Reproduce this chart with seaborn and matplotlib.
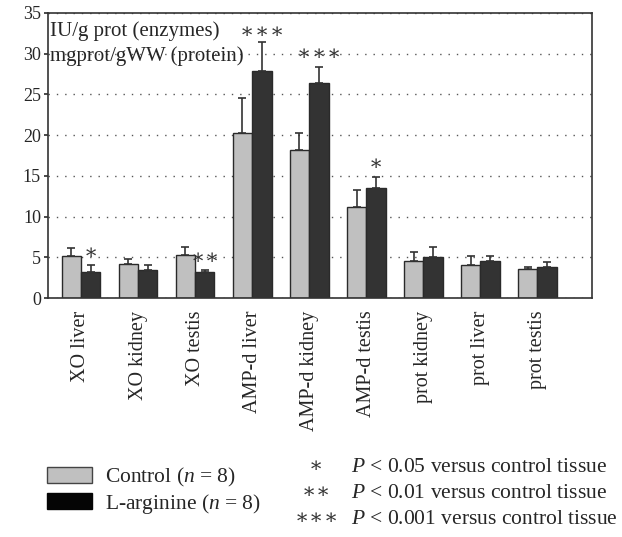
import numpy as np
import pandas as pd
import matplotlib
matplotlib.use("Agg")
import matplotlib.pyplot as plt
import matplotlib.transforms as mtransforms
import seaborn as sns
from matplotlib.patches import Patch

# Values
categories = ["XO liver", "XO kidney", "XO testis", "AMP-d liver", "AMP-d kidney",
              "AMP-d testis", "prot kidney", "prot liver", "prot testis"]
control_mean = [5.2, 4.2, 5.3, 20.3, 18.2, 11.2, 4.6, 4.0, 3.6]
control_err = [0.9, 0.6, 1.0, 4.2, 2.1, 2.0, 1.1, 1.1, 0.25]
larg_mean = [3.2, 3.45, 3.15, 27.9, 26.4, 13.5, 5.0, 4.6, 3.85]
larg_err = [0.8, 0.55, 0.25, 3.5, 2.0, 1.3, 1.3, 0.55, 0.55]
groups = ["Control", "L-arginine"]
stars = {0: 1, 2: 2, 3: 3, 4: 3, 5: 1}
star_y = {0: 5.3, 2: 4.7, 3: 32.5, 4: 29.8, 5: 16.3}

sns.set_theme(style="white")
serif = ["Liberation Serif", "DejaVu Serif"]
plt.rcParams["font.family"] = serif
plt.rcParams["mathtext.fontset"] = "custom"
plt.rcParams["mathtext.rm"] = "Liberation Serif"
plt.rcParams["mathtext.it"] = "Liberation Serif:italic"


def draw_stars(fig, x, y, k, trans, gap=10.5, size=15):
    # k asterisks centred on (x, y), gap in points
    for i in range(k):
        off = (i - (k - 1) / 2) * gap
        t = mtransforms.offset_copy(trans, fig=fig, x=off, y=0, units="points")
        fig.text(x, y, "∗", transform=t, ha="center", va="center", fontsize=size,
                 color="#333333")


df = pd.DataFrame({
    "tissue": categories * 2,
    "group": [groups[0]] * len(categories) + [groups[1]] * len(categories),
    "value": control_mean + larg_mean,
})

fig = plt.figure(figsize=(6.22, 5.37), dpi=100)
ax = fig.add_axes([0.077, 0.445, 0.875, 0.531])

palette = {"Control": "#c0c0c0", "L-arginine": "#333333"}
sns.barplot(data=df, x="tissue", y="value", hue="group", order=categories,
            hue_order=groups, palette=palette, width=0.68, errorbar=None,
            edgecolor="#2a2a2a", linewidth=1.0, saturation=1, legend=False, ax=ax)

# upward-only error bars placed on the drawn bars
bars = ax.patches
n = len(categories)
for i, (mean, err) in enumerate([(control_mean, control_err), (larg_mean, larg_err)]):
    xs = [bars[i * n + j].get_x() + bars[i * n + j].get_width() / 2 for j in range(n)]
    ax.errorbar(xs, mean, yerr=[np.zeros(n), err], fmt="none", ecolor="#333333",
                elinewidth=1.2, capsize=3, capthick=1.2, zorder=3)

for j, k in stars.items():
    draw_stars(fig, j + 0.17, star_y[j], k, ax.transData, gap=10.5, size=15)

ax.set_ylim(0, 35)
ax.set_xlim(-0.58, 8.96)
ax.set_yticks(range(0, 36, 5))
ax.yaxis.grid(True, linestyle=(0, (1, 5)), color="#555555", linewidth=1.0)
ax.set_axisbelow(True)
for sp in ax.spines.values():
    sp.set_color("#333333")
    sp.set_linewidth(1.2)
ax.tick_params(axis="y", left=True, length=3, color="#333333", labelsize=13, pad=2)
ax.tick_params(axis="x", bottom=False, labelsize=14.5, pad=3)
ax.set_xticklabels(categories, rotation=90)
ax.set_xlabel("")
ax.set_ylabel("")

ax.text(0.003, 0.935, "IU/g prot (enzymes)", transform=ax.transAxes, fontsize=15,
        va="center", ha="left")
ax.text(0.003, 0.85, "mgprot/gWW (protein)", transform=ax.transAxes, fontsize=15,
        va="center", ha="left")

handles = [Patch(facecolor="#c0c0c0", edgecolor="#444444"),
           Patch(facecolor="#050505", edgecolor="#050505")]
labels = ["Control ($n$ = 8)", "L-arginine ($n$ = 8)"]
fig.legend(handles, labels, loc="upper left", bbox_to_anchor=(47 / 622, 1 - 466 / 537),
           frameon=False, fontsize=15.5, handlelength=2.1, handleheight=0.75,
           handletextpad=0.6, labelspacing=0.12, borderaxespad=0, borderpad=0)

sig_text = ["$P$ < 0.05 versus control tissue", "$P$ < 0.01 versus control tissue",
            "$P$ < 0.001 versus control tissue"]
for k, t in enumerate(sig_text):
    y = 1 - (467 + 26.5 * k) / 537
    draw_stars(fig, 316 / 622, y, k + 1, fig.transFigure, gap=10.5, size=15)
    fig.text(351 / 622, y, t, ha="left", va="center", fontsize=15.5)

fig.savefig("out.png", dpi=100)
